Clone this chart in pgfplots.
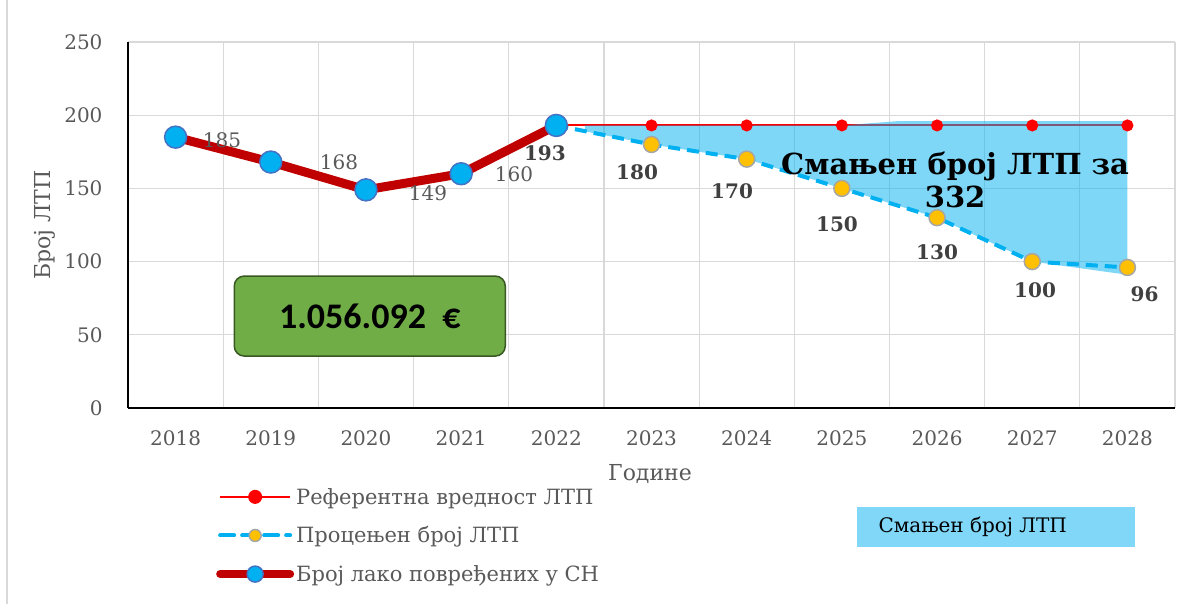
\documentclass[border=0pt]{standalone}
\usepackage{fontspec}
\setmainfont{DejaVu Serif}
\newfontfamily\calib{Carlito}
\usepackage{pgfplots}
\pgfplotsset{compat=1.18}

\definecolor{gridc}{HTML}{D9D9D9}
\definecolor{tickc}{HTML}{595959}
\definecolor{labc}{HTML}{404040}
\definecolor{refred}{HTML}{FF0000}
\definecolor{estblue}{HTML}{00B0F0}
\definecolor{estyel}{HTML}{FFC000}
\definecolor{actred}{HTML}{C00000}
\definecolor{actedge}{HTML}{4472C4}
\definecolor{boxg}{HTML}{70AD47}
\definecolor{boxgd}{HTML}{385723}

\newcommand{\fs}[1]{\fontsize{#1}{#1}\selectfont}

\begin{document}
\begin{tikzpicture}[x=1bp,y=1bp]
\path[use as bounding box] (0,0) rectangle (1192,604);
\draw[gridc, line width=1.5bp] (7,0) -- (7,604);
\begin{axis}[
  at={(128bp,196bp)}, anchor=south west,
  width=1047bp, height=366bp, scale only axis,
  xmin=-0.5, xmax=10.5, ymin=0, ymax=250,
  xtick={0,1,2,3,4,5,6,7,8,9,10},
  xticklabels={2018,2019,2020,2021,2022,2023,2024,2025,2026,2027,2028},
  ytick={0,50,100,150,200,250},
  minor xtick={0.5,1.5,2.5,3.5,4.5,5.5,6.5,7.5,8.5,9.5,10.5},
  xminorgrids=true, ymajorgrids=true,
  grid style={gridc, line width=1.2bp},
  minor grid style={gridc, line width=1.2bp},
  axis x line*=bottom, axis y line*=left,
  axis line style={black, line width=1.5bp, -},
  major tick length=0, minor tick length=0,
  /pgf/number format/assume math mode=true,
  ticklabel style={font=\fs{20bp}, text=tickc},
  xticklabel style={anchor=center, yshift=-30bp},
  yticklabel style={anchor=east, xshift=-22bp},
  xlabel={Године}, ylabel={Број ЛТП},
  xlabel style={at={(axis description cs:0.4986,-0.18)}, anchor=center, font=\fs{22bp}, text=tickc},
  ylabel style={at={(axis description cs:-0.079,0.5)}, anchor=center, font=\fs{22bp}, text=tickc},
  legend image code/.code={\draw[mark repeat=2,mark phase=2,#1] plot coordinates {(0bp,0bp) (35bp,0bp) (70bp,0bp)};},
  legend style={at={(axis description cs:0.084,-0.213)}, anchor=north west,
    draw=none, fill=none, font=\fs{21bp}, text=tickc, row sep=17bp,
    inner sep=0pt, cells={anchor=west}},
  legend cell align=left,
]
% reference value
\addplot[refred, line width=2bp, mark=*, mark size=5bp, mark options={fill=refred, draw=refred},
  legend image post style={mark size=6bp}]
  coordinates {(4,193) (5,193) (6,193) (7,193) (8,193) (9,193) (10,193)};
\addlegendentry{Референтна вредност ЛТП}
% estimated
\addplot[estblue, line width=4bp, dash pattern=on 12bp off 7bp,
  mark=*, mark size=8bp, mark options={solid, fill=estyel, draw=gray!70, line width=1.5bp},
  legend image post style={mark size=6bp, dash pattern=on 14bp off 8bp, line cap=round}]
  coordinates {(4,193) (5,180) (6,170) (7,150) (8,130) (9,100) (10,96)};
\addlegendentry{Процењен број ЛТП}
% reduced area
\addplot[forget plot, draw=none, fill=estblue, fill opacity=0.5]
  coordinates {(4.3,193) (7,193) (7.6,196) (10,196) (10,91) (9,100) (8,130) (7,150) (6,170) (5,180) (4.3,189)};
% actual
\addplot[actred, line width=9bp, line cap=round, line join=round,
  mark=*, mark size=11bp, mark options={fill=estblue, draw=actedge, line width=1.5bp},
  legend image post style={mark size=8bp, line width=8bp}]
  coordinates {(0,185) (1,168) (2,149) (3,160) (4,193)};
\addlegendentry{Број лако повређених у СН}

\begin{scope}[every node/.style={font=\fs{20bp}, text=tickc}]
\node at (axis cs:0.488,183.1) {185};
\node at (axis cs:1.717,168.0) {168};
\node at (axis cs:2.652,146.9) {149};
\node at (axis cs:3.555,159.8) {160};
\end{scope}
\begin{scope}[every node/.style={font=\bfseries\fs{20bp}, text=labc}]
\node at (axis cs:3.88,174.2) {193};
\node at (axis cs:4.848,161.2) {180};
\node at (axis cs:5.846,148.2) {170};
\node at (axis cs:6.949,125.7) {150};
\node at (axis cs:8.0,106.6) {130};
\node at (axis cs:9.03,80.6) {100};
\node at (axis cs:10.18,77.9) {96};
\end{scope}
\node[font=\bfseries\fs{29bp}, align=center] at (axis cs:8.19,155.7)
  {Смањен број ЛТП за\\[4bp]332};
\node[draw=boxgd, line width=1.5bp, fill=boxg, rounded corners=10bp,
  minimum width=271bp, minimum height=80bp, font=\calib\bfseries\fs{36bp}]
  at (axis cs:2.04,62.8) {1.056.092\ \ €};
\end{axis}
\fill[estblue!50] (857,57) rectangle (1135,97);
\node[anchor=west, font=\fs{20bp}] at (875,77) {Смањен број ЛТП};
\end{tikzpicture}
\end{document}
